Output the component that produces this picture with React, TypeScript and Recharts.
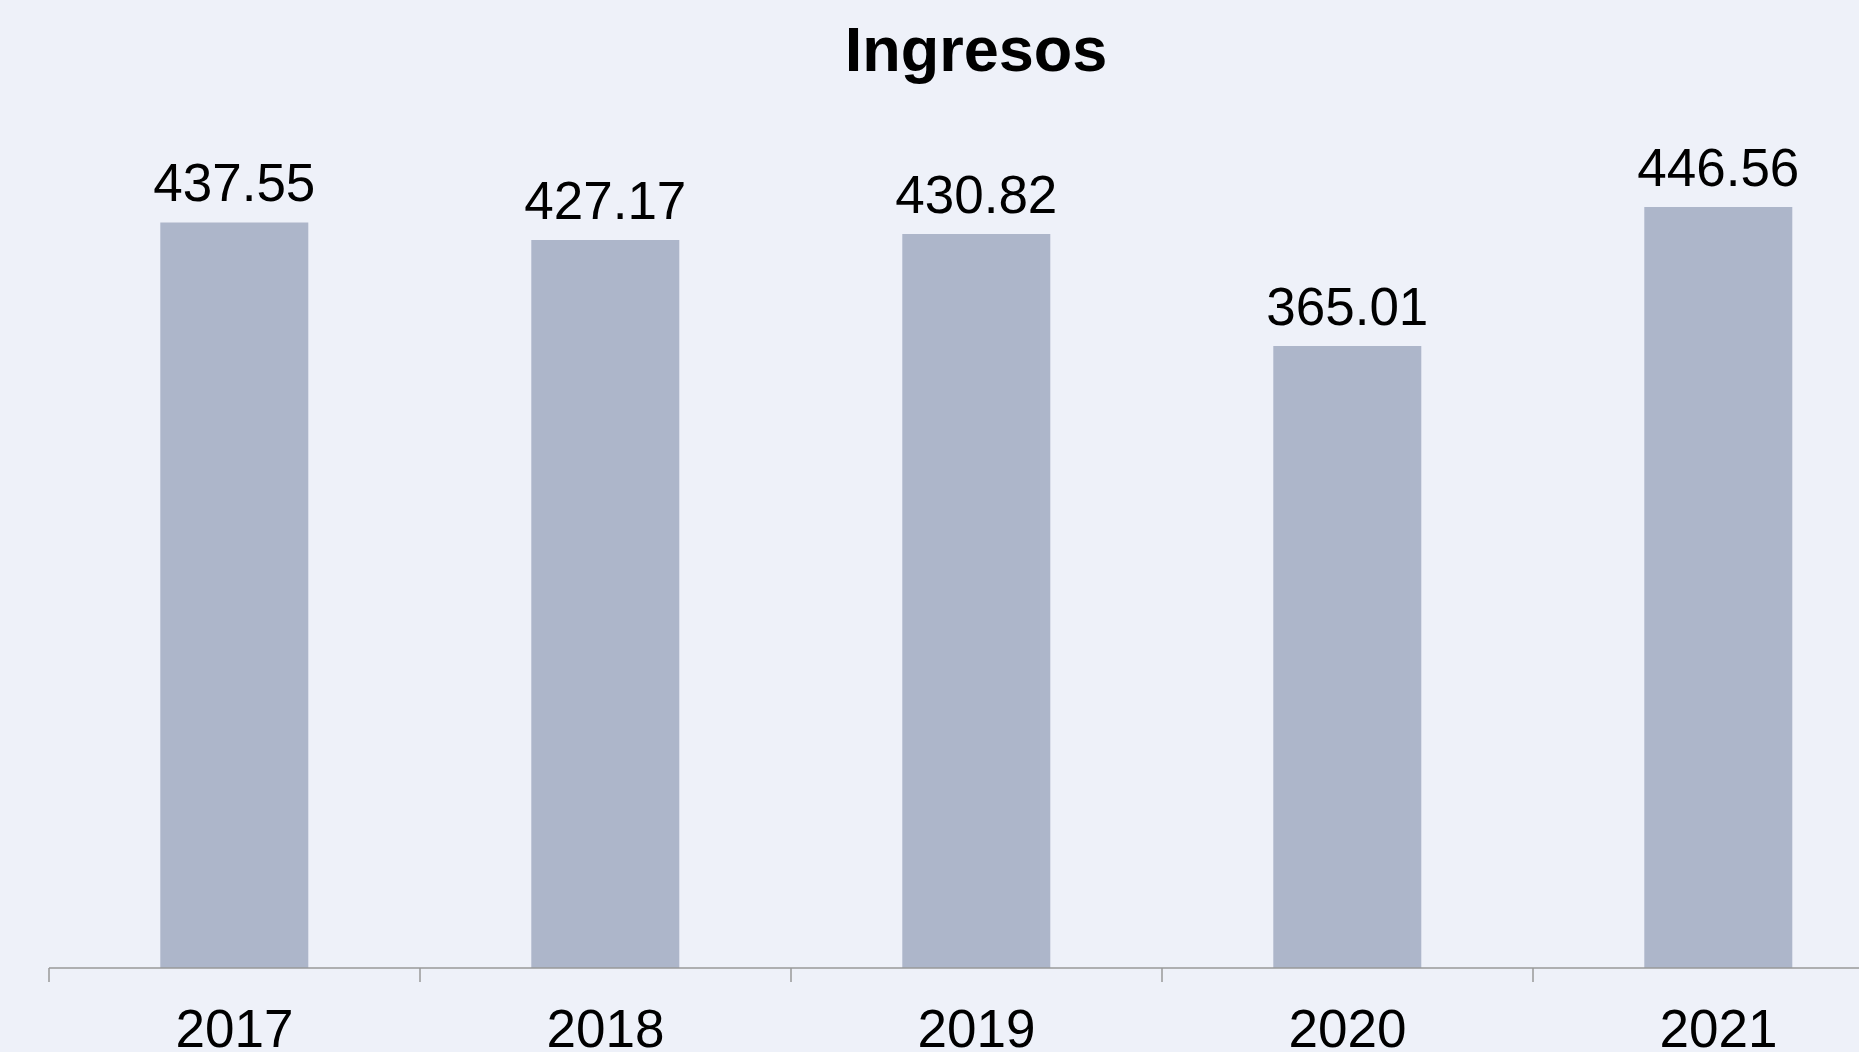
import { BarChart, Bar, XAxis, YAxis, LabelList } from 'recharts';

const years = ['2017', '2018', '2019', '2020', '2021'];
const ingresos = [437.55, 427.17, 430.82, 365.01, 446.56];

const data = years.map((year, i) => ({ year, value: ingresos[i] }));

const CHART_W = 1910;
const CHART_H = 1052;
const MARGIN = { top: 116, right: 6, bottom: 0, left: 49 };
const BAND = (CHART_W - MARGIN.left - MARGIN.right) / years.length;
const FONT = "'Liberation Sans', Arial, sans-serif";

// tick marks sit on the category boundaries, not on the centres
function YearTick(props: any) {
  const { x, y, payload } = props;
  const left = x - BAND / 2;
  return (
    <g>
      <line x1={left} y1={y} x2={left} y2={y + 14} stroke="#999" strokeWidth={1.5} />
      <text x={x} y={y + 79} textAnchor="middle" fontSize={53} fontFamily={FONT} fill="#000">
        {payload.value}
      </text>
    </g>
  );
}

export default function App() {
  return (
    <div
      style={{
        position: 'fixed',
        left: 0,
        top: 0,
        width: 1859,
        height: 1052,
        overflow: 'hidden',
        background: '#EEF1F9',
      }}
    >
      <div
        style={{
          position: 'absolute',
          left: 0,
          top: 18,
          width: 1952,
          textAlign: 'center',
          fontFamily: FONT,
          fontWeight: 'bold',
          fontSize: 63,
          lineHeight: '63px',
          color: '#000',
        }}
      >
        Ingresos
      </div>
      <BarChart width={CHART_W} height={CHART_H} data={data} margin={MARGIN} barCategoryGap="30%">
        <XAxis
          dataKey="year"
          height={84}
          tickLine={false}
          tickSize={0}
          tickMargin={0}
          axisLine={{ stroke: '#999', strokeWidth: 1.5 }}
          tick={<YearTick />}
          interval={0}
        />
        <YAxis hide domain={[0, 500]} />
        <Bar dataKey="value" fill="#ADB6CA" isAnimationActive={false}>
          <LabelList
            dataKey="value"
            position="top"
            offset={21}
            formatter={(v: any) => Number(v).toFixed(2)}
            fontSize={53}
            fontFamily={FONT}
            fill="#000"
          />
        </Bar>
      </BarChart>
    </div>
  );
}
